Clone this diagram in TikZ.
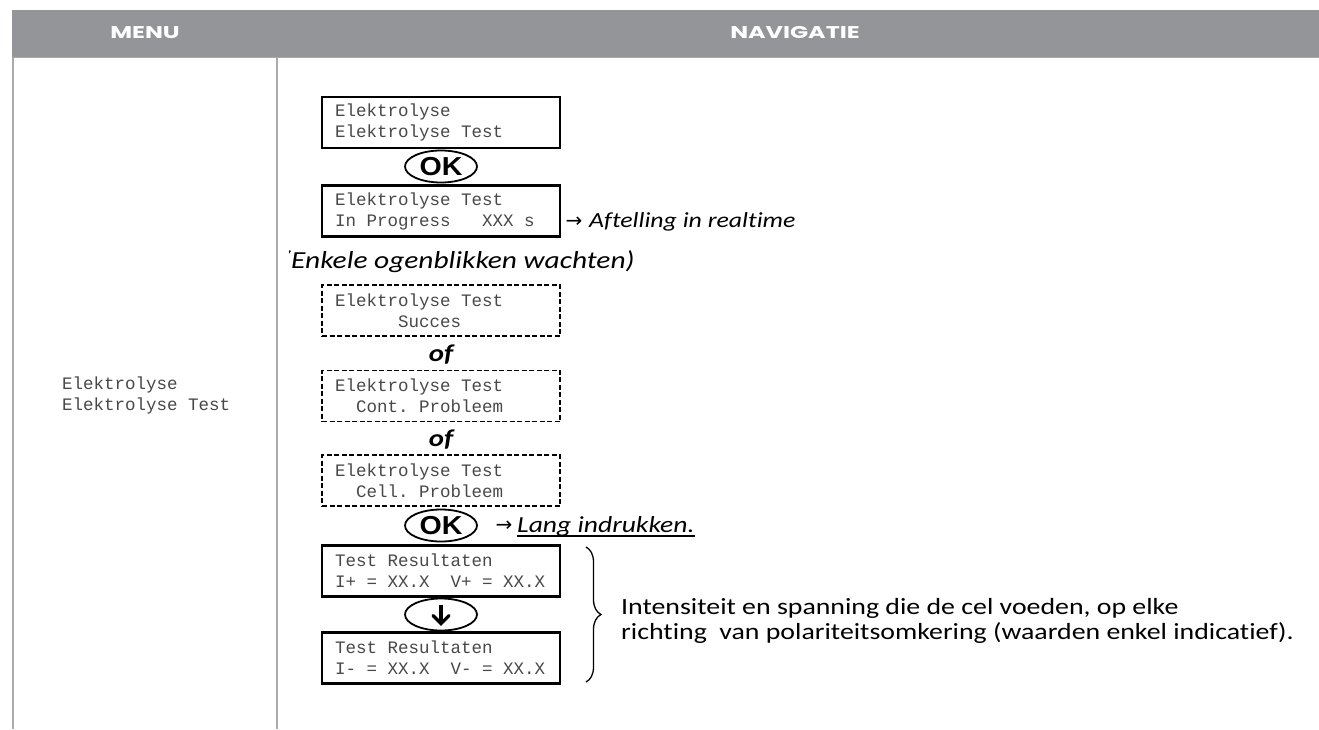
\documentclass[tikz,border=0pt]{standalone}
\usepackage{fontspec}
\setmainfont{Carlito}[FakeStretch=1.2, Ligatures=NoCommon]
\newfontfamily\lcdfont{Liberation Mono}
\newfontfamily\headfont{Poppins}[FakeStretch=1.4]
\newfontfamily\keyfont{Liberation Sans}[FakeStretch=1.1]
\newfontfamily\symbfont{DejaVu Sans}
\usetikzlibrary{
    shapes.geometric,
    decorations.pathreplacing,
    positioning
}
\definecolor{headgray}{RGB}{147,149,152}
\definecolor{rulegray}{RGB}{167,169,172}
\definecolor{lcdgray}{RGB}{72,72,72}
% one character cell of the display
\newcommand{\sk}{\hphantom{X}}
\tikzset{
    lcdplain/.style={align=left, text=lcdgray, inner sep=0pt,
        font=\lcdfont\fontsize{17.5}{21}\selectfont},
    lcdbox/.style={lcdplain, draw, line width=2.4pt, inner xsep=13pt,
        text width=212pt, minimum height=51pt},
    lcdalt/.style={lcdbox, line width=1.6pt, dash pattern=on 5pt off 2.5pt},
    okkey/.style={draw, ellipse, line width=1.8pt, minimum width=72pt,
        minimum height=32pt, inner sep=0pt,
        font=\keyfont\bfseries\fontsize{26}{26}\selectfont},
    remark/.style={anchor=west, inner sep=0pt,
        font=\itshape\fontsize{21.5}{21.5}\selectfont},
    orword/.style={font=\bfseries\itshape\fontsize{24}{24}\selectfont},
    pointer/.style={inner sep=0pt, font=\symbfont\fontsize{20}{20}\selectfont},
    headtxt/.style={text=white, font=\headfont\bfseries\fontsize{17}{17}\selectfont}
}

\begin{document}
\begin{tikzpicture}[x=1pt, y=-1pt]
    \useasboundingbox (0,0) rectangle (1319,729);

    % table frame
    \fill[headgray] (12,10) rectangle (1319,57);
    \draw[rulegray, line width=1.5pt] (12,57.5) -- (1319,57.5);
    \draw[rulegray, line width=2pt] (13,57) -- (13,729);
    \draw[rulegray, line width=2pt] (277,57) -- (277,729);
    \node[headtxt] (menuhd) at (145,33) {MENU};
    \node[headtxt] (navhd) at (795,33) {NAVIGATIE};

    \node[lcdplain, anchor=west] (menutxt) at (62,395) {Elektrolyse\\Elektrolyse\sk Test};

    % navigation
    \node[lcdbox] (scr1) at (441,122.5) {Elektrolyse\\Elektrolyse\sk Test};
    \node[okkey] (ok1) at (441,166.5) {OK};
    \node[lcdbox] (scr2) at (441,211) {Elektrolyse\sk Test\\In\sk Progress\sk\sk\sk XXX\sk s};
    \node[pointer] (arr1) at (574,222) {→};
    \node[remark] (count) at (589,222) {Aftelling in realtime};

    \begin{scope}
        \clip (289,240) rectangle (700,285);
        \node[remark, font=\itshape\fontsize{24.5}{24.5}\selectfont] (wait) at (282,262) {(Enkele ogenblikken wachten)};
    \end{scope}

    \node[lcdalt] (res1) at (441,310.5) {Elektrolyse\sk Test\\\sk\sk\sk\sk\sk\sk Succes};
    \node[orword] (of1) at (441,355) {of};
    \node[lcdalt] (res2) at (441,396) {Elektrolyse\sk Test\\\sk\sk Cont.\sk Probleem};
    \node[orword] (of2) at (441,440) {of};
    \node[lcdalt] (res3) at (441,480.5) {Elektrolyse\sk Test\\\sk\sk Cell.\sk Probleem};

    \node[okkey] (ok2) at (441,525.5) {OK};
    \node[pointer] (arr2) at (504,526) {→};
    \node[remark, font=\itshape\fontsize{23}{23}\selectfont] (hold) at (517,526) {Lang indrukken.};
    \draw[line width=1.2pt] ([yshift=-4pt]hold.base west) -- ([yshift=-4pt]hold.base east);

    \node[lcdbox] (meas1) at (441,571) {Test\sk Resultaten\\\mbox{I+\sk=\sk XX.X\sk\sk V+\sk=\sk XX.X}};
    \node[okkey] (dn) at (441,614.5) {};
    \draw[line width=3.2pt, shift={(dn.center)}] (0,-10) -- (0,9);
    \draw[line width=3.2pt, line cap=round, shift={(dn.center)}] (-8,1) -- (0,9) -- (8,1);
    \node[lcdbox] (meas2) at (441,658) {Test\sk Resultaten\\\mbox{I-\sk=\sk XX.X\sk\sk V-\sk=\sk XX.X}};

    \coordinate (brtop) at (586,547);
    \coordinate (brbot) at (586,682);
    \draw[line width=1.3pt, decorate, decoration={brace, amplitude=15pt}] (brtop) -- (brbot);
    \node[anchor=west, align=left, inner sep=0pt, font=\fontsize{23.2}{25}\selectfont] (note) at (621,621)
        {Intensiteit en spanning die de cel voeden, op elke\\richting\ \ van polariteitsomkering (waarden enkel indicatief).};
\end{tikzpicture}
\end{document}
